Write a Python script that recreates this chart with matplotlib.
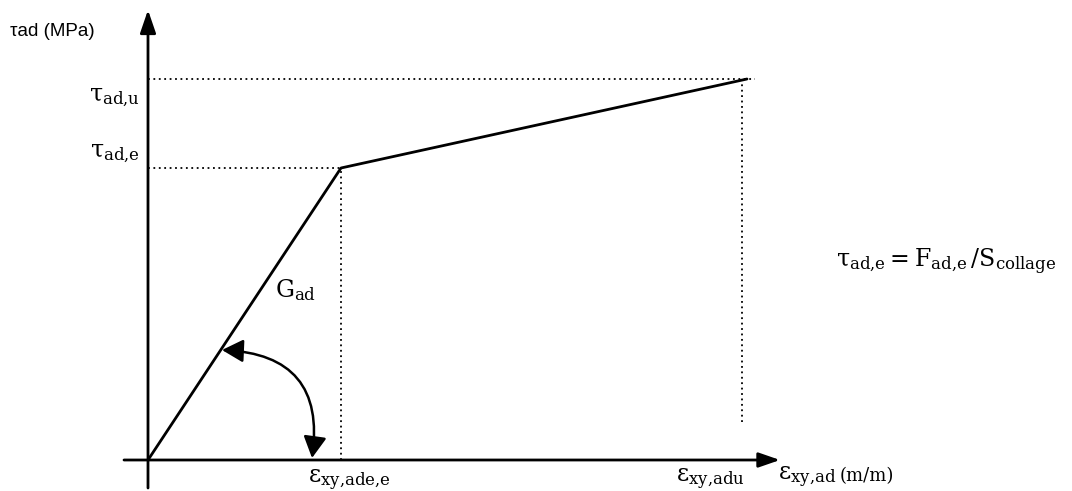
import numpy as np
import matplotlib as mpl
mpl.use('Agg')
import matplotlib.pyplot as plt
from matplotlib.patches import FancyArrowPatch

mpl.rcParams['mathtext.fontset'] = 'custom'
mpl.rcParams['mathtext.rm'] = 'DejaVu Serif'
mpl.rcParams['mathtext.it'] = 'DejaVu Serif:italic'

# bilinear adhesive law: origin, elastic limit, ultimate point
strain = [0.0, 1.93, 5.99]
stress = [0.0, 2.92, 3.81]
# end of the ultimate strain marker (it stops above the axis)
strain_u_marker = 5.94
marker_bottom = 0.38

fig = plt.figure(figsize=(10.72, 4.91), dpi=100)
ax = fig.add_axes([0, 0, 1, 1])
ax.set_xlim(-1.48, 9.24)
ax.set_ylim(-0.31, 4.60)
ax.axis('off')

# axes with arrow heads
ax.annotate('', xy=(6.32, 0), xytext=(-0.24, 0),
            arrowprops=dict(arrowstyle='-|>,head_length=1.3,head_width=0.45',
                            lw=2, color='black', shrinkA=0, shrinkB=0))
ax.annotate('', xy=(0, 4.50), xytext=(0, -0.28),
            arrowprops=dict(arrowstyle='-|>,head_length=1.4,head_width=0.48',
                            lw=2, color='black', shrinkA=0, shrinkB=0))

# behaviour law
ax.plot(strain, stress, 'k-', lw=2, solid_capstyle='round')

# dotted guide lines
dot = dict(color='black', lw=1.3, ls=(0, (1, 2)))
ax.plot([0, strain[1]], [stress[1], stress[1]], **dot)
ax.plot([strain[1], strain[1]], [0, stress[1]], **dot)
ax.plot([0, strain[2] + 0.08], [stress[2], stress[2]], **dot)
ax.plot([strain_u_marker, strain_u_marker], [marker_bottom, stress[2]], **dot)

# angle arrow for the shear modulus
arc = FancyArrowPatch((0.74, 1.10), (1.64, 0.02),
                      connectionstyle='arc3,rad=-0.55',
                      arrowstyle='<|-|>,head_length=13,head_width=7',
                      lw=1.8, color='black', shrinkA=0, shrinkB=0)
ax.add_patch(arc)

fs = 17
ax.text(-1.38, 4.28, r'τad (MPa)', fontsize=13.5, family='Liberation Sans',
        va='center', ha='left')
ax.text(-0.08, stress[2] - 0.18, r'$\mathrm{τ}_{\mathrm{ad{,}u}}$', fontsize=fs,
        ha='right', va='center')
ax.text(-0.08, stress[1] + 0.15, r'$\mathrm{τ}_{\mathrm{ad{,}e}}$', fontsize=fs,
        ha='right', va='center')
ax.text(1.27, 1.70, r'$\mathrm{G}_{\mathrm{ad}}$', fontsize=fs,
        ha='left', va='center')
ax.text(1.60, -0.20, r'$\mathrm{ε}_{\mathrm{xy{,}ade{,}e}}$', fontsize=fs,
        ha='left', va='center')
ax.text(5.28, -0.19, r'$\mathrm{ε}_{\mathrm{xy{,}adu}}$', fontsize=fs,
        ha='left', va='center')
ax.text(6.30, -0.17, r'$\mathrm{ε}_{\mathrm{xy{,}ad}}$', fontsize=fs,
        ha='left', va='center')
ax.text(6.92, -0.16, '(m/m)', fontsize=13, family='DejaVu Serif',
        ha='left', va='center')
ax.text(6.88, 1.98, r'$\mathrm{τ}_{\mathrm{ad{,}e}} = \mathrm{F}_{\mathrm{ad{,}e}}\,/\mathrm{S}_{\mathrm{collage}}$',
        fontsize=fs, ha='left', va='center')

plt.savefig('out.png', dpi=100)
